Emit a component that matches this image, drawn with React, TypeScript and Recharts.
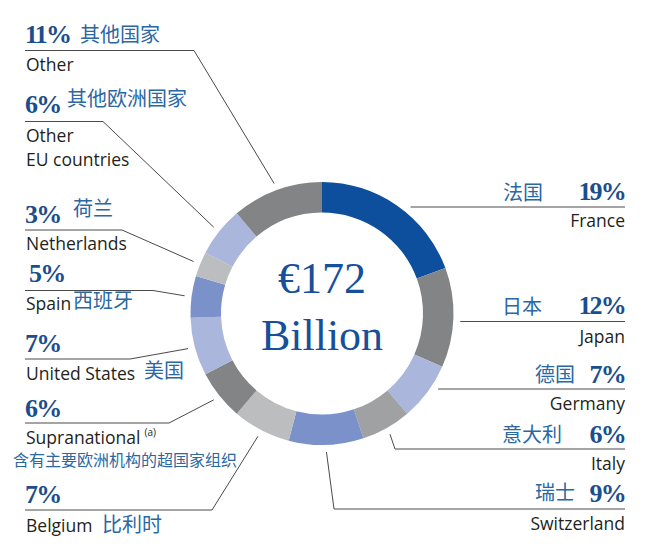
import { Pie, PieChart } from 'recharts';

// Investment breakdown, clockwise from 12 o'clock
const regionsEn = [
  ['France'],
  ['Japan'],
  ['Germany'],
  ['Italy'],
  ['Switzerland'],
  ['Belgium'],
  ['Supranational'],
  ['United States'],
  ['Spain'],
  ['Netherlands'],
  ['Other', 'EU countries'],
  ['Other'],
];
const regionsCn = [
  '法国',
  '日本',
  '德国',
  '意大利',
  '瑞士',
  '比利时',
  '含有主要欧洲机构的超国家组织',
  '美国',
  '西班牙',
  '荷兰',
  '其他欧洲国家',
  '其他国家',
];
const shares = [19, 12, 7, 6, 9, 7, 6, 7, 5, 3, 6, 11];
const totalLabel = ['€172', 'Billion'];

const sliceColors = [
  '#0d4f9c',
  '#838486',
  '#aab6db',
  '#a0a1a3',
  '#7a92c9',
  '#bcbdbf',
  '#838486',
  '#aab6db',
  '#7a92c9',
  '#bcbdbf',
  '#aab6db',
  '#838486',
];

const SERIF = "'Liberation Serif', 'DejaVu Serif', serif";
const SANS = "'Open Sans', 'Noto Sans', sans-serif";
const CJK = "'Noto Sans CJK SC', sans-serif";
const PCT_COLOR = '#1a4e8c';
const CN_COLOR = '#2a67a3';
const EN_COLOR = '#231f20';
const LINE_COLOR = '#4a4a4a';

const W = 660;
const H = 552;
const CX = 322;
const CY = 313.5;
const LEADER_R = 138.5;
const LEFT_X = 25;
const RIGHT_X = 625;

type LabelLayout = {
  side: 'left' | 'right';
  pctY: number;
  pctX?: number;
  lineY: number;
  elbowX?: number; // undefined -> horizontal line straight from the ring
  enY: number[];
  cnX: number;
  cnY: number;
  cnSize?: number;
  sup?: string;
};

const labelLayout: LabelLayout[] = [
  { side: 'right', pctY: 200, lineY: 207, enY: [227], cnX: 503, cnY: 200 },
  { side: 'right', pctY: 314, lineY: 321.5, enY: [343], cnX: 502, cnY: 314 },
  { side: 'right', pctY: 383, lineY: 389, enY: [410], cnX: 535, cnY: 382 },
  { side: 'right', pctY: 443, lineY: 449, elbowX: 395, enY: [470], cnX: 502, cnY: 442 },
  { side: 'right', pctY: 502, lineY: 509, elbowX: 334, enY: [530], cnX: 535, cnY: 500 },
  { side: 'left', pctY: 503, lineY: 510, elbowX: 212, enY: [532], cnX: 102, cnY: 532 },
  { side: 'left', pctY: 417, lineY: 423, elbowX: 169, enY: [444], cnX: 13, cnY: 466, cnSize: 16, sup: '(a)' },
  { side: 'left', pctY: 352, lineY: 359, elbowX: 130, enY: [380], cnX: 144, cnY: 378 },
  { side: 'left', pctX: 29, pctY: 282, lineY: 290.5, elbowX: 153, enY: [310], cnX: 73, cnY: 308 },
  { side: 'left', pctY: 223, lineY: 230, elbowX: 122, enY: [250], cnX: 73, cnY: 216 },
  { side: 'left', pctY: 113, lineY: 121.5, elbowX: 103, enY: [142, 166], cnX: 67, cnY: 106 },
  { side: 'left', pctY: 43, lineY: 50.5, elbowX: 194, enY: [71], cnX: 80, cnY: 42 },
];

const data = shares.map((value, i) => ({
  name: regionsEn[i].join(' '),
  value,
  fill: sliceColors[i],
}));

const RAD = Math.PI / 180;

function renderLabel(props: any) {
  const { cx, cy, midAngle, index } = props;
  const layout = labelLayout[index];
  if (!layout) return null;
  const isLeft = layout.side === 'left';
  const edgeX = isLeft ? LEFT_X : RIGHT_X;

  let points: string;
  if (layout.elbowX === undefined) {
    const dy = layout.lineY - cy;
    const dx = Math.sqrt(Math.max(0, LEADER_R * LEADER_R - dy * dy));
    const startX = isLeft ? cx - dx : cx + dx;
    points = `${startX},${layout.lineY} ${edgeX},${layout.lineY}`;
  } else {
    const sx = cx + LEADER_R * Math.cos(-midAngle * RAD);
    const sy = cy + LEADER_R * Math.sin(-midAngle * RAD);
    points = `${sx},${sy} ${layout.elbowX},${layout.lineY} ${edgeX},${layout.lineY}`;
  }

  const anchor = isLeft ? 'start' : 'end';
  const pctX = layout.pctX ?? edgeX;

  return (
    <g key={`label-${index}`}>
      <polyline points={points} fill="none" stroke={LINE_COLOR} strokeWidth={1} />
      <text
        x={pctX}
        y={layout.pctY}
        textAnchor={anchor}
        fontFamily={SERIF}
        fontWeight={700}
        fontSize={26}
        letterSpacing={-1.8}
        fill={PCT_COLOR}
      >
        {`${shares[index]}%`}
      </text>
      <text
        x={layout.cnX}
        y={layout.cnY}
        fontFamily={CJK}
        fontSize={layout.cnSize ?? 20}
        fill={CN_COLOR}
      >
        {regionsCn[index]}
      </text>
      {regionsEn[index].map((line, li) => (
        <text
          key={line}
          x={isLeft ? LEFT_X + 1 : RIGHT_X}
          y={layout.enY[li]}
          textAnchor={anchor}
          fontFamily={SANS}
          fontSize={17.5}
          fill={EN_COLOR}
        >
          {line}
          {layout.sup && li === 0 ? (
            <tspan fontSize={10} dx={4} dy={-8}>
              {layout.sup}
            </tspan>
          ) : null}
        </text>
      ))}
    </g>
  );
}

export default function App() {
  return (
    <div style={{ position: 'absolute', left: 0, top: 0, width: W, height: H, background: '#ffffff' }}>
      <PieChart width={W} height={H} margin={{ top: 0, right: 0, bottom: 0, left: 0 }}>
        <Pie
          data={data}
          dataKey="value"
          nameKey="name"
          cx={CX}
          cy={CY}
          innerRadius={101}
          outerRadius={131.5}
          startAngle={90}
          endAngle={-270}
          stroke="none"
          label={renderLabel}
          labelLine={false}
          isAnimationActive={false}
        />
        <text
          x={CX}
          y={293}
          textAnchor="middle"
          fontFamily={SERIF}
          fontSize={44}
          fill="#17509a"
        >
          {totalLabel[0]}
        </text>
        <text
          x={CX}
          y={350}
          textAnchor="middle"
          fontFamily={SERIF}
          fontSize={44}
          fill="#17509a"
        >
          {totalLabel[1]}
        </text>
      </PieChart>
    </div>
  );
}
